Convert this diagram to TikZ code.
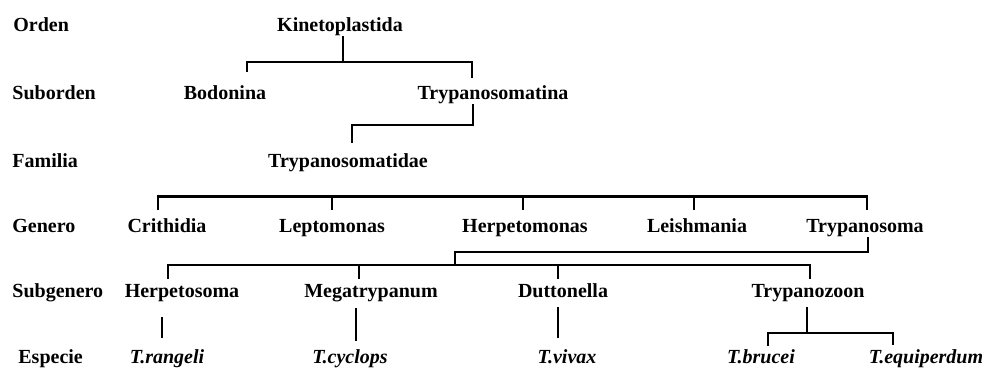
\documentclass[tikz,border=0pt]{standalone}
\usepackage{fontspec}
\setmainfont{Liberation Serif}
\usepackage{tikz}
\tikzset{
  rank/.style={anchor=base west, inner sep=0pt, font=\bfseries},
  taxon/.style={anchor=base, inner sep=0pt, text height=7pt, text depth=2pt, font=\bfseries},
  species/.style={taxon, font=\bfseries\itshape},
  link/.style={draw=black, line width=1.1pt},
}
\begin{document}
\begin{tikzpicture}[x=0.5pt, y=-0.5pt]
  \useasboundingbox (0,0) rectangle (989,368);
  \node[rank] (orden) at (13,32) {Orden};
  \node[rank] (suborden) at (12,100) {Suborden};
  \node[rank] (familia) at (12,168) {Familia};
  \node[rank] (genero) at (12,233) {Genero};
  \node[rank] (subgenero) at (12,298) {Subgenero};
  \node[rank] (especie) at (18,363) {Especie};
  \node[taxon] (kineto) at (340,32) {Kinetoplastida};
  \node[taxon] (bodo) at (225,100) {Bodonina};
  \node[taxon] (trypina) at (493,100) {Trypanosomatina};
  \node[taxon] (trypidae) at (348,168) {Trypanosomatidae};
  \node[taxon] (crith) at (167,233) {Crithidia};
  \node[taxon] (lepto) at (332,233) {Leptomonas};
  \node[taxon] (herpm) at (525,233) {Herpetomonas};
  \node[taxon] (leish) at (697,233) {Leishmania};
  \node[taxon] (trypsoma) at (865,233) {Trypanosoma};
  \node[taxon] (herps) at (182,298) {Herpetosoma};
  \node[taxon] (mega) at (371,298) {Megatrypanum};
  \node[taxon] (dutto) at (563,298) {Duttonella};
  \node[taxon] (trypzoon) at (808,298) {Trypanozoon};
  \node[species] (rang) at (167,363) {T.rangeli};
  \node[species] (cycl) at (350,363) {T.cyclops};
  \node[species] (viva) at (567,363) {T.vivax};
  \node[species] (bruc) at (761,363) {T.brucei};
  \node[species] (equi) at (926,363) {T.equiperdum};
  \draw[link] ([xshift=1.5pt]kineto.south) -- ++(0,26) coordinate (kb);
  \draw[link] ([xshift=11pt,yshift=7pt]bodo.north) |- (kb) -| ([xshift=-10.5pt,yshift=4pt]trypina.north);
  \draw[link] ([xshift=-10pt]trypina.south) -- ++(0,21) -| ([xshift=2pt,yshift=5.5pt]trypidae.north);
  \draw[link] ([xshift=-4.5pt,yshift=4.5pt]crith.north) -- ++(0,-13) -| ([xshift=1pt,yshift=4.5pt]trypsoma.north);
  \draw[link] ([yshift=4.5pt]lepto.north) -- ++(0,-13);
  \draw[link] ([xshift=-1pt,yshift=4.5pt]herpm.north) -- ++(0,-13);
  \draw[link] ([xshift=-1.5pt,yshift=4.5pt]leish.north) -- ++(0,-13);
  \coordinate (sg) at (455,265);
  \draw[link] ([xshift=1.5pt]trypsoma.south) -- ++(0,15) -| (sg);
  \draw[link] ([xshift=-7pt,yshift=2.5pt]herps.north) |- (sg) -| ([xshift=1pt,yshift=2.5pt]trypzoon.north);
  \draw[link] ([xshift=-6pt,yshift=2.5pt]mega.north) -- ++(0,-14);
  \draw[link] ([xshift=-2.5pt,yshift=2.5pt]dutto.north) -- ++(0,-14);
  \draw[link] ([xshift=-10pt,yshift=-7.5pt]herps.south) -- ([xshift=-2.5pt,yshift=5.5pt]rang.north);
  \draw[link] ([xshift=-7.5pt,yshift=-3pt]mega.south) -- ([xshift=3pt,yshift=4pt]cycl.north);
  \draw[link] ([xshift=-2.5pt,yshift=-2.5pt]dutto.south) -- ([xshift=-4.5pt,yshift=5.5pt]viva.north);
  \coordinate (tz) at (807,333);
  \draw[link] ([xshift=-0.5pt,yshift=-2.5pt]trypzoon.south) -- (tz);
  \draw[link] ([xshift=3.5pt,yshift=1.5pt]bruc.north) |- (tz) -| ([xshift=-16.5pt,yshift=2pt]equi.north);
\end{tikzpicture}
\end{document}
